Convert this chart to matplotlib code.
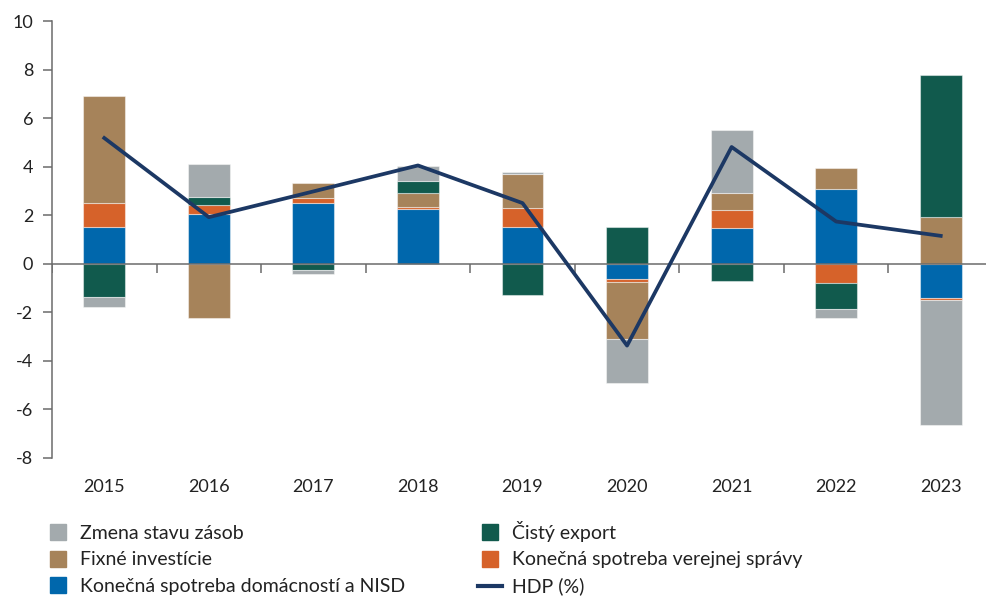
import numpy as np
import matplotlib
matplotlib.use("Agg")
import matplotlib.pyplot as plt
from matplotlib.lines import Line2D

plt.rcParams["font.family"] = ["Lato", "DejaVu Sans"]
plt.rcParams["axes.unicode_minus"] = False

# -------------------------------------------------
# DATA
# -------------------------------------------------

years = ["2015", "2016", "2017", "2018", "2019", "2020", "2021", "2022", "2023"]

domacnosti = [1.51, 2.07, 2.50, 2.25, 1.50, -0.63, 1.46, 3.07, -1.42]
verejna = [0.99, 0.36, 0.20, 0.08, 0.80, -0.14, 0.76, -0.79, -0.09]
investicie = [4.42, -2.22, 0.61, 0.59, 1.40, -2.34, 0.70, 0.89, 1.93]
export = [-1.36, 0.34, -0.25, 0.48, -1.29, 1.52, -0.72, -1.08, 5.84]
zasoby = [-0.40, 1.34, -0.18, 0.64, 0.10, -1.79, 2.57, -0.37, -5.14]
hdp = [5.18, 1.92, 2.98, 4.05, 2.50, -3.37, 4.81, 1.74, 1.15]

series = [
    ("Konečná spotreba domácností a NISD", domacnosti, "#0067ac"),
    ("Konečná spotreba verejnej správy", verejna, "#d6622a"),
    ("Fixné investície", investicie, "#a6835a"),
    ("Čistý export", export, "#115a4d"),
    ("Zmena stavu zásob", zasoby, "#a3aaad"),
]

# -------------------------------------------------
# PLOT
# -------------------------------------------------

fig = plt.figure(figsize=(9.87, 5.98), dpi=100)
ax = fig.add_axes([52 / 987, 1 - 458 / 598, 941 / 987, (458 - 21) / 598])

x = np.arange(len(years))
pos_base = np.zeros(len(years))
neg_base = np.zeros(len(years))

for name, vals, color in series:
    vals = np.array(vals)
    base = np.where(vals >= 0, pos_base, neg_base)
    ax.bar(x, vals, bottom=base, width=0.4, color=color,
           edgecolor=(1, 1, 1, 0.45), linewidth=0.8, zorder=2)
    pos_base = pos_base + np.where(vals >= 0, vals, 0)
    neg_base = neg_base + np.where(vals < 0, vals, 0)

ax.plot(x, hdp, color="#1c3864", linewidth=2.7, zorder=4)

ax.axhline(0, color="#6b6b6b", linewidth=1.1, zorder=3)
ax.vlines(np.arange(-0.5, len(years)), -0.37, 0, color="#6b6b6b",
          linewidth=1.1, zorder=3)

ax.set_xlim(-0.5, len(years) - 0.5)
ax.set_ylim(-8, 10)
ax.set_yticks(np.arange(-8, 11, 2))
ax.set_xticks(x)
ax.set_xticklabels(years)

for s in ["top", "right", "bottom"]:
    ax.spines[s].set_visible(False)
ax.spines["left"].set_color("#6b6b6b")
ax.spines["left"].set_linewidth(1.1)

ax.tick_params(axis="y", length=6.5, width=1.1, color="#6b6b6b",
               pad=7, labelsize=13, labelcolor="#222222")
ax.tick_params(axis="x", length=0, pad=15, labelsize=13,
               labelcolor="#222222")

# -------------------------------------------------
# LEGEND
# -------------------------------------------------

def sq(color):
    return Line2D([], [], marker="s", linestyle="", markersize=11,
                  markerfacecolor=color, markeredgecolor=color)

handles = [sq("#a3aaad"), sq("#a6835a"), sq("#0067ac"),
           sq("#115a4d"), sq("#d6622a"),
           Line2D([], [], color="#1c3864", linewidth=3)]
labels = ["Zmena stavu zásob", "Fixné investície",
          "Konečná spotreba domácností a NISD",
          "Čistý export", "Konečná spotreba verejnej správy", "HDP (%)"]

leg = fig.legend(handles, labels, loc="upper left", ncol=2, frameon=False,
                 fontsize=14, handlelength=1.25, handletextpad=0.5,
                 labelspacing=0.48, columnspacing=3.75, borderpad=0,
                 borderaxespad=0,
                 bbox_to_anchor=(46 / 987, 1 - 521 / 598))
for t in leg.get_texts():
    t.set_color("#222222")

plt.savefig("out.png", dpi=100)
